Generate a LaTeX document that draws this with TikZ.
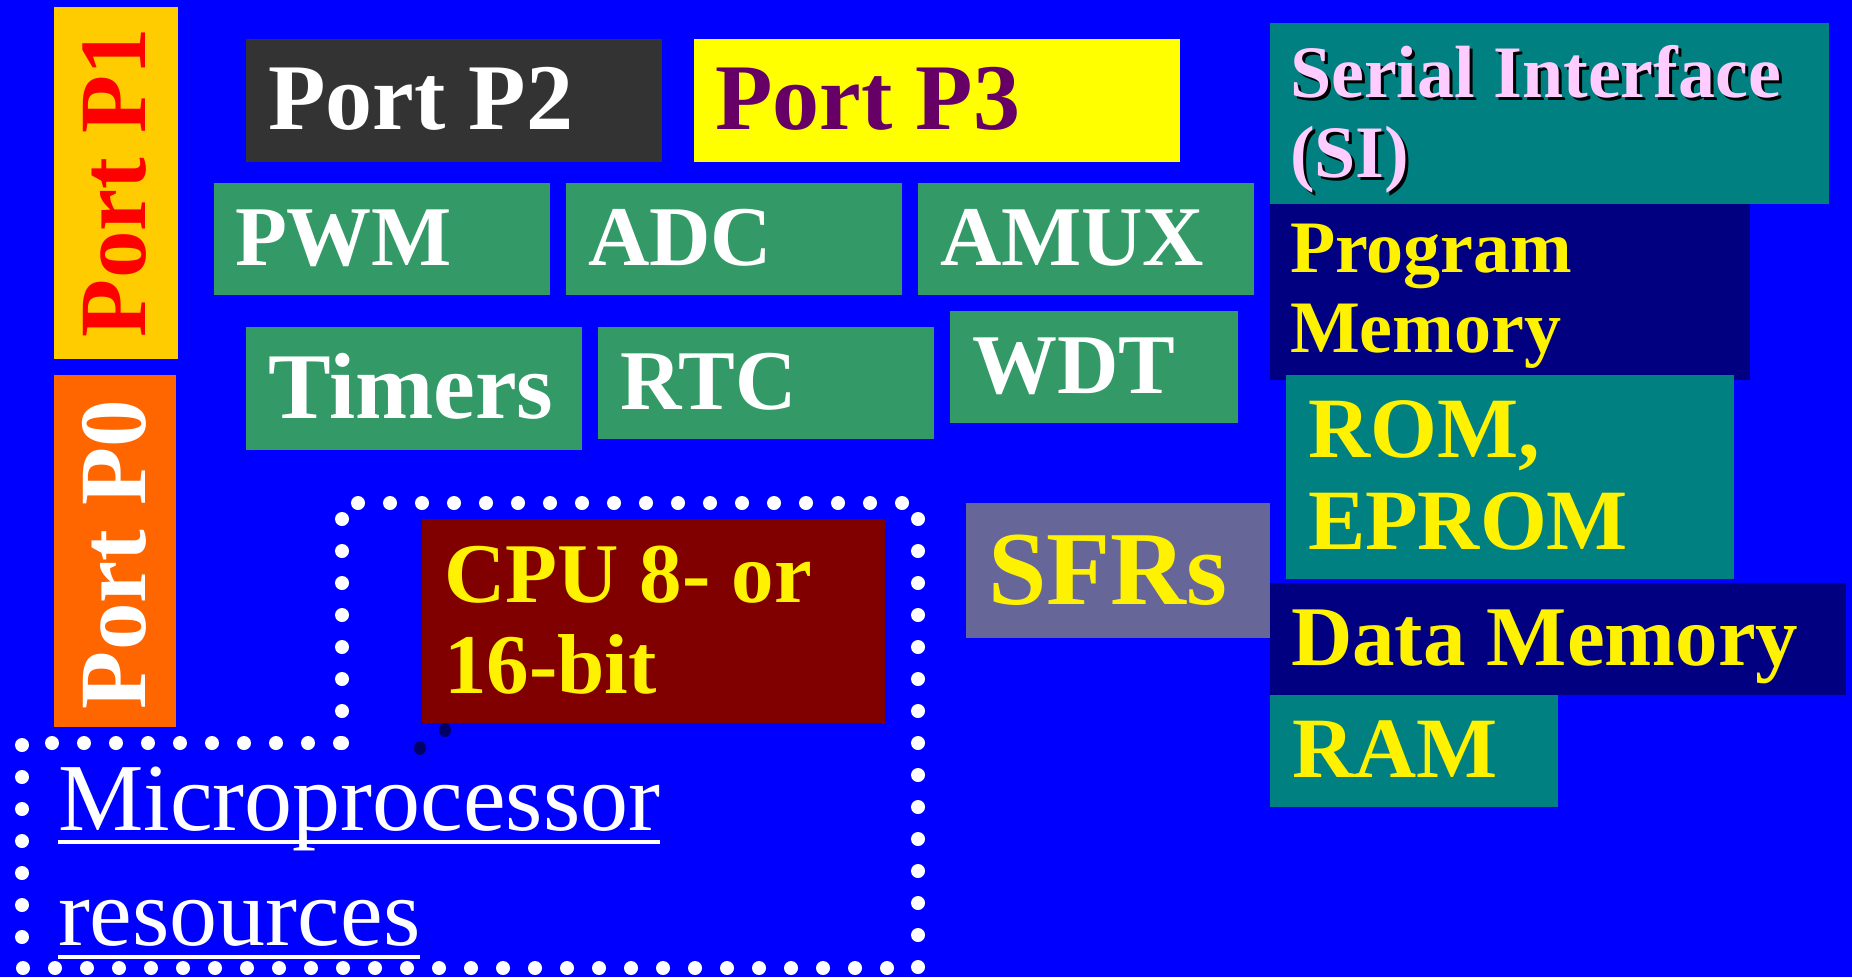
\documentclass[tikz,border=0pt]{standalone}
\usepackage{fontspec}
\setmainfont{Liberation Serif}
\definecolor{bgblue}{HTML}{0000FF}
\definecolor{pone}{HTML}{FFCC00}
\definecolor{pzero}{HTML}{FF6600}
\definecolor{ptwo}{HTML}{333333}
\definecolor{pthree}{HTML}{FFFF00}
\definecolor{pthreetxt}{HTML}{660066}
\definecolor{periph}{HTML}{339966}
\definecolor{tealbox}{HTML}{008080}
\definecolor{navybox}{HTML}{000080}
\definecolor{sfrbox}{HTML}{666699}
\definecolor{cpubox}{HTML}{800000}
\definecolor{pinktxt}{HTML}{FFCCFF}
\definecolor{dotdark}{HTML}{000066}
\newcommand\pxfont[1]{\fontsize{#1}{#1}\selectfont}
\begin{document}
\begin{tikzpicture}[x=1pt,y=-1pt,
  box/.style={draw=none, inner sep=0pt, outer sep=0pt, anchor=north west},
  lbl/.style={anchor=base west, inner sep=0pt, outer sep=0pt},
  bold/.style={font=\pxfont{#1}\bfseries},
  dots/.style={white, line width=14pt, line cap=round, dash pattern=on 0pt off 32pt}]
\useasboundingbox (0,0) rectangle (1852,977);
\fill[bgblue] (0,0) rectangle (1852,977);

% ports
\node[box, fill=pone, minimum width=124pt, minimum height=352pt] (p1) at (54,7) {};
\node[lbl, rotate=90, bold=95, text=red] (p1t) at (145,337) {Port P1};
\node[box, fill=pzero, minimum width=122pt, minimum height=352pt] (p0) at (54,375) {};
\node[lbl, rotate=90, bold=95, text=white] (p0t) at (145,709) {Port P0};
\node[box, fill=ptwo, minimum width=416pt, minimum height=123pt] (p2) at (246,39) {};
\node[lbl, bold=94, text=white] (p2t) at (268,129) {Port P2};
\node[box, fill=pthree, minimum width=486pt, minimum height=123pt] (p3) at (694,39) {};
\node[lbl, bold=94, text=pthreetxt] (p3t) at (715,129) {Port P3};

% peripherals
\node[box, fill=periph, minimum width=336pt, minimum height=112pt] (pwm) at (214,183) {};
\node[lbl, bold=85, text=white] (pwmt) at (235,265) {PWM};
\node[box, fill=periph, minimum width=336pt, minimum height=112pt] (adc) at (566,183) {};
\node[lbl, bold=85, text=white] (adct) at (588,265) {ADC};
\node[box, fill=periph, minimum width=336pt, minimum height=112pt] (amux) at (918,183) {};
\node[lbl, bold=85, text=white] (amuxt) at (940,265) {AMUX};
\node[box, fill=periph, minimum width=336pt, minimum height=123pt] (tim) at (246,327) {};
\node[lbl, bold=94, text=white] (timt) at (268,418) {Timers};
\node[box, fill=periph, minimum width=336pt, minimum height=112pt] (rtc) at (598,327) {};
\node[lbl, bold=85, text=white] (rtct) at (620,409) {RTC};
\node[box, fill=periph, minimum width=288pt, minimum height=112pt] (wdt) at (950,311) {};
\node[lbl, bold=85, text=white] (wdtt) at (972,393) {WDT};

% memory side
\node[box, fill=tealbox, minimum width=559pt, minimum height=181pt] (si) at (1270,23) {};
\node[lbl, bold=74, text=black] (sish1) at (1293,100) {Serial Interface};
\node[lbl, bold=74, text=black] (sish2) at (1293,180) {(SI)};
\node[lbl, bold=74, text=pinktxt] (sit1) at (1290,97) {Serial Interface};
\node[lbl, bold=74, text=pinktxt] (sit2) at (1290,177) {(SI)};
\node[box, fill=navybox, minimum width=480pt, minimum height=176pt] (pm) at (1270,204) {};
\node[lbl, bold=74, text=yellow] (pmt1) at (1290,272) {Program};
\node[lbl, bold=74, text=yellow] (pmt2) at (1290,352) {Memory};
\node[box, fill=tealbox, minimum width=448pt, minimum height=204pt] (rom) at (1286,375) {};
\node[lbl, bold=86, text=yellow] (romt1) at (1308,457) {ROM,};
\node[lbl, bold=86, text=yellow] (romt2) at (1308,549) {EPROM};
\node[box, fill=sfrbox, minimum width=304pt, minimum height=135pt] (sfr) at (966,503) {};
\node[lbl, bold=105, text=yellow] (sfrt) at (988,604) {SFRs};
\node[box, fill=navybox, minimum width=576pt, minimum height=112pt] (dm) at (1270,583) {};
\node[lbl, bold=85, text=yellow] (dmt) at (1291,665) {Data Memory};
\node[box, fill=tealbox, minimum width=288pt, minimum height=112pt] (ram) at (1270,695) {};
\node[lbl, bold=86, text=yellow] (ramt) at (1292,777) {RAM};

% CPU and dotted outline
\draw[dots] (342,743) -- (342,503) -- (918,503) -- (918,968) -- (22,968) -- (22,743) -- cycle;
\node[box, fill=cpubox, minimum width=463pt, minimum height=204pt] (cpu) at (422,519) {};
\node[lbl, bold=85, text=yellow] (cput1) at (444,602) {CPU 8- or};
\node[lbl, bold=85, text=yellow] (cput2) at (444,693) {16-bit};
\fill[dotdark] (445,730) ellipse [x radius=6pt, y radius=7pt];
\fill[dotdark] (420,748) ellipse [x radius=6pt, y radius=7pt];

\node[lbl, font=\pxfont{96}, text=white] (mp1) at (58,830) {Microprocessor};
\node[lbl, font=\pxfont{96}, text=white] (mp2) at (58,945) {resources};
\draw[white, line width=4pt] ([yshift=-12pt]mp1.base west) -- ([yshift=-12pt]mp1.base east);
\draw[white, line width=4pt] ([yshift=-12pt]mp2.base west) -- ([yshift=-12pt]mp2.base east);
\end{tikzpicture}
\end{document}
